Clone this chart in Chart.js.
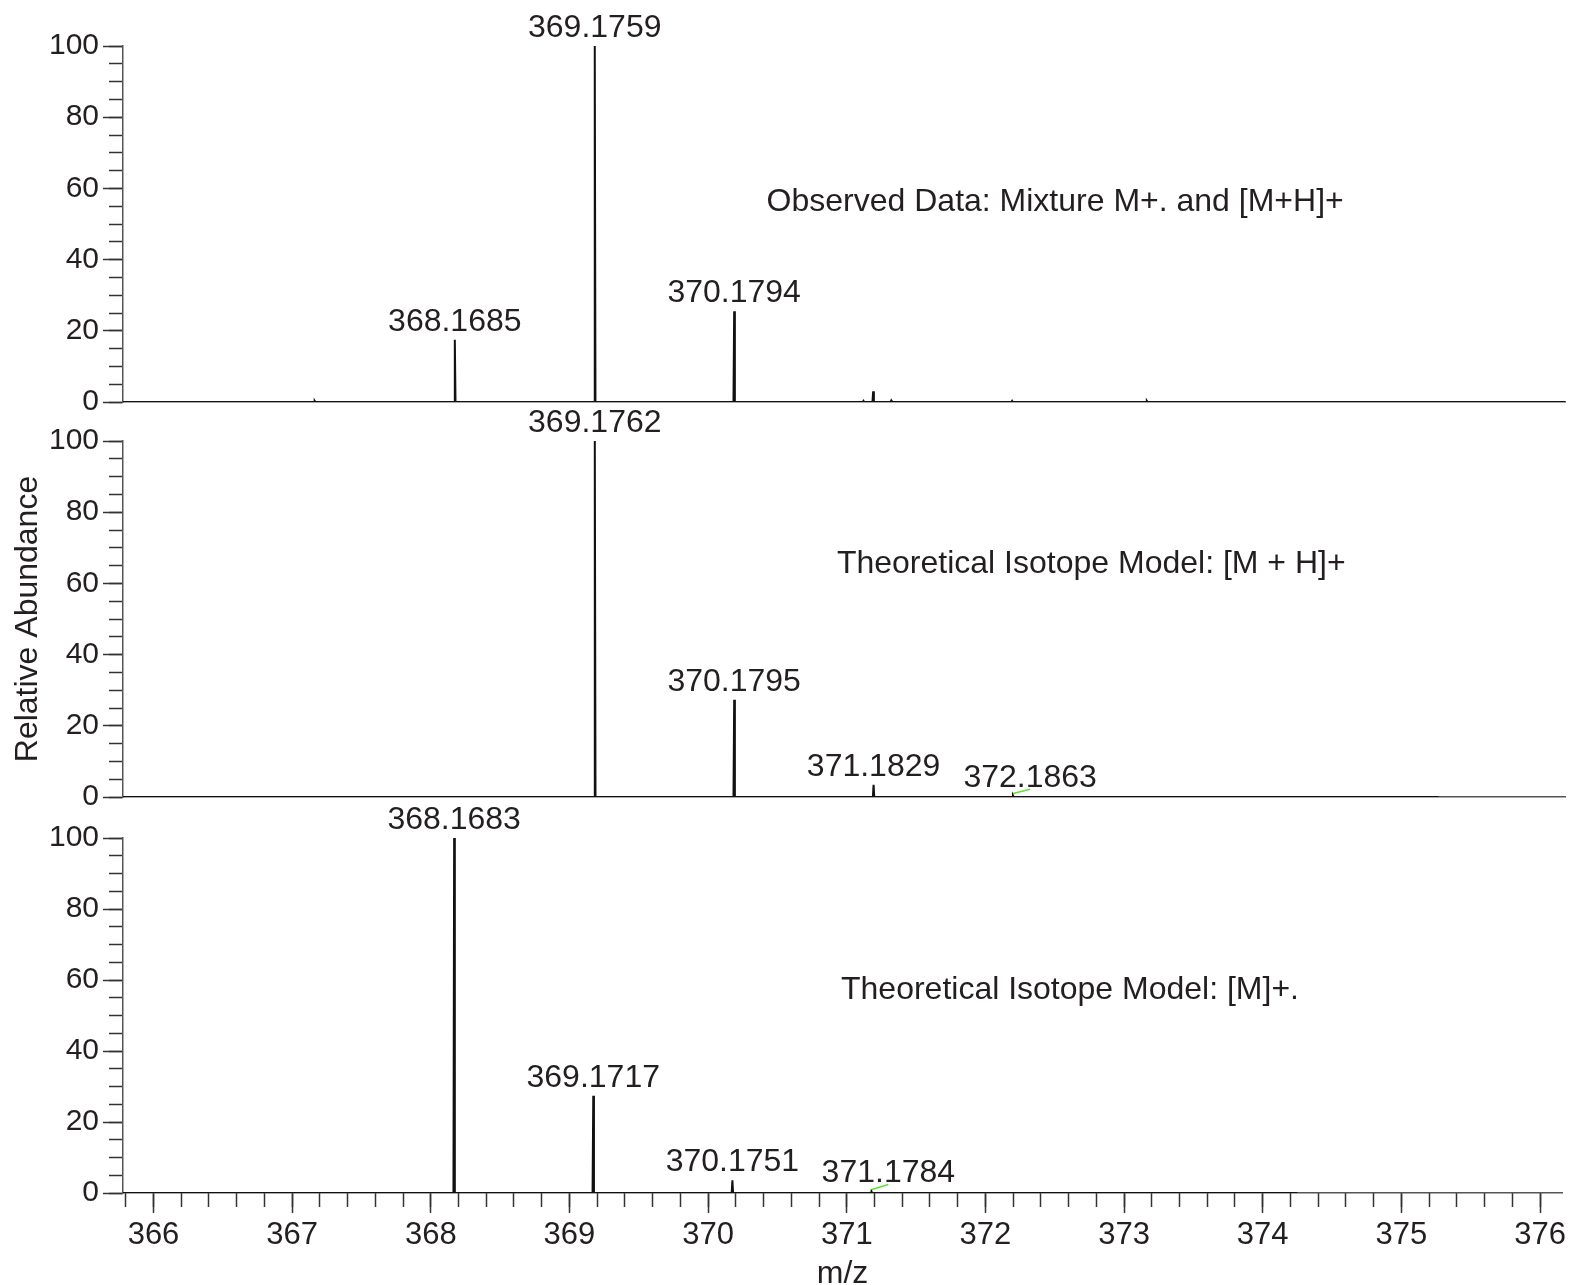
<!DOCTYPE html>
<html lang="en">
<head>
<meta charset="UTF-8">
<title>Isotope patterns</title>
<script src="https://cdn.jsdelivr.net/npm/chart.js@4"></script>
<style>
    body { margin: 0; background: #fff; }
    #wrap { position: relative; width: 1570px; height: 1285px; }
    #wrap canvas { position: absolute; left: 0; top: 0; }
</style>
</head>
<body>
<div id="wrap">
    <canvas id="observed" width="1570" height="1285"></canvas>
    <canvas id="modelMH" width="1570" height="1285"></canvas>
    <canvas id="modelM" width="1570" height="1285"></canvas>
</div>
<script>
// shared m/z axis
const mzMin = 365.78;
const mzMax = 376.16;
const mzTickLabels = [366, 367, 368, 369, 370, 371, 372, 373, 374, 375, 376];
const abundTickLabels = [0, 20, 40, 60, 80, 100];

// observed spectrum (mixture)
const obsMz = [367.16, 368.1685, 369.1759, 370.1794, 371.11, 371.18, 371.31, 372.18, 373.15];
const obsAbund = [0.3, 17.5, 100, 25.5, 0.3, 3.0, 0.4, 0.3, 0.3];
const obsLabels = ['', '368.1685', '369.1759', '370.1794', '', '', '', '', ''];
const obsEnd = 376.16;

// theoretical [M + H]+
const mhMz = [369.1762, 370.1795, 371.1829, 372.1863];
const mhAbund = [100, 27.3, 3.4, 0.4];
const mhLabels = ['369.1762', '370.1795', '371.1829', '372.1863'];
const mhEnd = 375.25;
const mhLeader = [[372.18, 0.9], [372.31, 2.2]];

// theoretical [M]+.
const mMz = [368.1683, 369.1717, 370.1751, 371.1784];
const mAbund = [100, 27.4, 3.6, 0.4];
const mLabels = ['368.1683', '369.1717', '370.1751', '371.1784'];
const mEnd = 374.25;
const mLeader = [[371.17, 0.85], [371.30, 2.4]];

const FONT = '"Liberation Sans", Arial, Helvetica, sans-serif';
const INK = '#231f20';

function profile(mz, ab, end) {
    const pts = [{x: mzMin, y: 0}];
    mz.forEach((m, i) => {
        pts.push({x: m - 0.005, y: 0}, {x: m, y: ab[i]}, {x: m + 0.005, y: 0});
    });
    pts.push({x: end, y: 0});
    return pts;
}

const peakText = {
    id: 'peakText',
    afterDatasetsDraw(chart, args, opts) {
        const {ctx} = chart;
        const x = chart.scales.x, y = chart.scales.y;
        ctx.save();
        ctx.fillStyle = INK;
        ctx.textAlign = 'center';
        ctx.font = '32px ' + FONT;
        ctx.textBaseline = 'alphabetic';
        opts.mz.forEach((m, i) => {
            const t = opts.labels[i];
            if (!t) return;
            let px = x.getPixelForValue(m);
            let py = y.getPixelForValue(opts.abund[i]) - 9;
            if (opts.leader && opts.leaderIndex === i) {
                px = x.getPixelForValue(opts.leader[1][0]);
                py = y.getPixelForValue(opts.leader[1][1]) - 2;
            }
            ctx.fillText(t, px, py);
        });
        ctx.textBaseline = 'middle';
        ctx.fillText(opts.note, x.getPixelForValue(opts.noteAt[0]), y.getPixelForValue(opts.noteAt[1]));
        ctx.restore();
    }
};

function makePanel(id, p) {
    const datasets = [{
        data: profile(p.mz, p.abund, p.end),
        borderColor: '#111',
        borderWidth: 2,
        pointRadius: 0,
        tension: 0
    }];
    if (p.leader) {
        datasets.push({
            data: p.leader.map(q => ({x: q[0], y: q[1]})),
            borderColor: '#5fe03a',
            borderWidth: 1.5,
            pointRadius: 0
        });
    }
    const scales = {
        x: {
            type: 'linear', position: 'bottom', weight: 1,
            min: mzMin, max: mzMax,
            ticks: {
                display: p.showX, stepSize: 1, includeBounds: false, autoSkip: false, maxRotation: 0,
                padding: 4, color: INK, font: {family: FONT, size: 31},
                callback: v => mzTickLabels.includes(Math.round(v * 1000) / 1000) ? String(v) : ''
            },
            grid: {drawOnChartArea: false, drawTicks: p.showX, tickLength: 20, tickColor: '#333', tickWidth: 1.5},
            border: {color: '#555', width: 1.5},
            title: {display: p.showX, text: 'm/z', color: INK, font: {family: FONT, size: 32, lineHeight: 0.7}, padding: 0},
            afterFit: s => { s.height = p.showX ? 92 : 0; }
        },
        y: {
            type: 'linear', position: 'left', weight: 1,
            min: 0, max: 100,
            ticks: {
                stepSize: 20, padding: 4, color: INK, font: {family: FONT, size: 30},
                callback: v => abundTickLabels.includes(v) ? String(v) : ''
            },
            grid: {drawOnChartArea: false, tickLength: 20, tickColor: '#333', tickWidth: 1.5},
            border: {color: '#555', width: 1.5},
            title: {display: p.showTitle, text: 'Relative Abundance', color: INK, font: {family: FONT, size: 32, lineHeight: 1}, padding: {top: 12, bottom: 0}},
            afterFit: s => { s.width = 123; }
        },
        ym: {
            type: 'linear', position: 'left', weight: 0,
            min: 0, max: 100,
            ticks: {display: false, stepSize: 5},
            grid: {drawOnChartArea: false, tickLength: 14, tickColor: '#333', tickWidth: 1.5},
            border: {display: false},
            afterFit: s => { s.width = 0; }
        }
    };
    if (p.showX) {
        scales.xm = {
            type: 'linear', position: 'bottom', weight: 0,
            min: mzMin, max: mzMax,
            ticks: {display: false, stepSize: 0.2, includeBounds: false},
            grid: {drawOnChartArea: false, tickLength: 14, tickColor: '#333', tickWidth: 1.5},
            border: {display: false},
            afterFit: s => { s.height = 0; }
        };
    }
    return new Chart(document.getElementById(id), {
        type: 'line',
        data: {datasets},
        options: {
            responsive: false,
            animation: false,
            layout: {padding: {top: p.top, bottom: p.bottom, left: 0, right: 5}},
            plugins: {
                legend: {display: false},
                tooltip: {enabled: false},
                peakText: {
                    mz: p.mz, abund: p.abund, labels: p.labels,
                    leader: p.leader, leaderIndex: p.leader ? p.mz.length - 1 : -1,
                    note: p.note, noteAt: p.noteAt
                }
            },
            scales
        },
        plugins: [peakText]
    });
}

makePanel('observed', {
    mz: obsMz, abund: obsAbund, labels: obsLabels, end: obsEnd,
    note: 'Observed Data: Mixture M+. and [M+H]+', noteAt: [372.49, 56.2],
    top: 46, bottom: 883, showX: false, showTitle: false
});
makePanel('modelMH', {
    mz: mhMz, abund: mhAbund, labels: mhLabels, end: mhEnd, leader: mhLeader,
    note: 'Theoretical Isotope Model: [M + H]+', noteAt: [372.75, 65.5],
    top: 441, bottom: 488, showX: false, showTitle: true
});
makePanel('modelM', {
    mz: mMz, abund: mAbund, labels: mLabels, end: mEnd, leader: mLeader,
    note: 'Theoretical Isotope Model: [M]+.', noteAt: [372.61, 57],
    top: 838, bottom: 0, showX: true, showTitle: false
});
</script>
</body>
</html>
